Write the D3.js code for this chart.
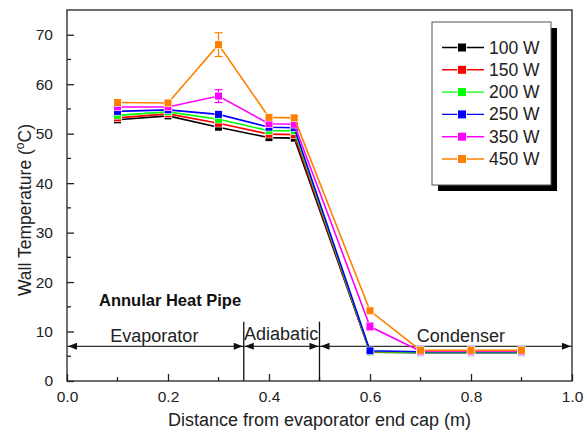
<!DOCTYPE html>
<html>
<head>
<meta charset="utf-8">
<script src="https://cdn.jsdelivr.net/npm/d3@7"></script>
<style>
  body { margin: 0; background: #fff; }
  svg { font-family: "Liberation Sans", Arial, sans-serif; }
</style>
</head>
<body>
<svg id="chart" width="587" height="432"></svg>
<script>
// distances along the pipe (m)
const positions = [0.1, 0.2, 0.3, 0.4, 0.45, 0.6, 0.7, 0.8, 0.9];
const powerLabels = ["100 W", "150 W", "200 W", "250 W", "350 W", "450 W"];
const colors = ["#000000", "#ff0000", "#00ff00", "#0000ff", "#ff00ff", "#ff8000"];

const temp100 = [52.8, 53.6, 51.3, 49.2, 49.1, 5.8, 5.7, 5.7, 5.7];
const temp150 = [53.2, 54.0, 52.1, 49.9, 49.8, 5.8, 5.8, 5.8, 5.8];
const temp200 = [53.7, 54.4, 52.9, 50.6, 50.6, 5.9, 5.8, 5.8, 5.8];
const temp250 = [54.5, 54.8, 53.9, 51.3, 51.2, 6.1, 5.9, 5.9, 5.9];
const temp350 = [55.4, 55.4, 57.6, 52.0, 51.9, 11.0, 6.0, 6.0, 6.0];
const temp450 = [56.3, 56.2, 68.0, 53.3, 53.2, 14.2, 6.2, 6.2, 6.2];
const temps = [temp100, temp150, temp200, temp250, temp350, temp450];

const err350 = [0, 0, 1.3, 0, 0, 0.8, 0, 0, 0];
const err450 = [0, 0, 2.4, 0, 0.4, 0, 0, 0, 0];
const errs = [null, null, null, null, err350, err450];

// section boundaries and labels
const sectionEdges = [0, 0.35, 0.5, 1.0];
const sectionNames = ["Evaporator", "Adiabatic", "Condenser"];
const sectionLabelX = [0.173, 0.424, 0.78];

const xTicks = [0, 0.2, 0.4, 0.6, 0.8, 1.0];
const xMinor = [0.1, 0.3, 0.5, 0.7, 0.9];
const yTicks = [0, 10, 20, 30, 40, 50, 60, 70];
const yMinor = [5, 15, 25, 35, 45, 55, 65];

const svg = d3.select("#chart");
const mLeft = 67, mRight = 572, mTop = 10, mBottom = 381;

const x = d3.scaleLinear().domain([0, 1]).range([mLeft, mRight]);
const y = d3.scaleLinear().domain([0, 75]).range([mBottom, mTop]);

const axisColor = "#222";

// frame
svg.append("rect")
  .attr("x", mLeft).attr("y", mTop)
  .attr("width", mRight - mLeft).attr("height", mBottom - mTop)
  .attr("fill", "none").attr("stroke", axisColor).attr("stroke-width", 1.3);

// x axis (ticks inward)
const xAxis = svg.append("g").attr("transform", `translate(0,${mBottom})`)
  .call(d3.axisBottom(x).tickValues(xTicks).tickSizeInner(-7).tickSizeOuter(0)
    .tickFormat(d3.format(".1f")).tickPadding(10));
xAxis.select(".domain").remove();
xAxis.selectAll("line").attr("stroke", axisColor).attr("stroke-width", 1.3);
xAxis.selectAll("text").attr("font-size", 15.5).attr("fill", "#222")
  .attr("font-family", "Liberation Sans, Arial, sans-serif");

svg.append("g").selectAll("line").data(xMinor).join("line")
  .attr("x1", d => x(d)).attr("x2", d => x(d))
  .attr("y1", mBottom).attr("y2", mBottom - 4)
  .attr("stroke", axisColor).attr("stroke-width", 1.3);

// y axis
const yAxis = svg.append("g").attr("transform", `translate(${mLeft},0)`)
  .call(d3.axisLeft(y).tickValues(yTicks).tickSizeInner(-7).tickSizeOuter(0).tickPadding(14));
yAxis.select(".domain").remove();
yAxis.selectAll("line").attr("stroke", axisColor).attr("stroke-width", 1.3);
yAxis.selectAll("text").attr("font-size", 15.5).attr("fill", "#222")
  .attr("font-family", "Liberation Sans, Arial, sans-serif");

svg.append("g").selectAll("line").data(yMinor).join("line")
  .attr("x1", mLeft).attr("x2", mLeft + 4)
  .attr("y1", d => y(d)).attr("y2", d => y(d))
  .attr("stroke", axisColor).attr("stroke-width", 1.3);

// axis titles
svg.append("text")
  .attr("x", (mLeft + mRight) / 2).attr("y", 426)
  .attr("text-anchor", "middle").attr("font-size", 18).attr("fill", "#222")
  .text("Distance from evaporator end cap (m)");

const yTitle = svg.append("text")
  .attr("transform", "translate(31,210) rotate(-90)")
  .attr("text-anchor", "middle").attr("font-size", 17.5).attr("fill", "#222");
yTitle.append("tspan").text("Wall Temperature (");
yTitle.append("tspan").attr("font-size", 12).attr("dy", -7).text("o");
yTitle.append("tspan").attr("dy", 7).text("C)");

// section annotations
const arrowY = y(7);
const annot = svg.append("g");
annot.append("line")
  .attr("x1", x(0)).attr("x2", x(1))
  .attr("y1", arrowY).attr("y2", arrowY)
  .attr("stroke", "#333").attr("stroke-width", 1.2);

function arrowHead(px, dir) {
  const len = 9, half = 3.5;
  annot.append("path")
    .attr("d", `M${px},${arrowY} L${px - dir * len},${arrowY - half} L${px - dir * len},${arrowY + half} Z`)
    .attr("fill", "#111");
}
for (let i = 0; i < sectionEdges.length - 1; i++) {
  arrowHead(x(sectionEdges[i]) + 1, -1);
  arrowHead(x(sectionEdges[i + 1]) - 1, 1);
}
[0.35, 0.5].forEach(v => {
  annot.append("line")
    .attr("x1", x(v)).attr("x2", x(v))
    .attr("y1", y(0)).attr("y2", y(12))
    .attr("stroke", "#111").attr("stroke-width", 1.3);
});
annot.selectAll("text.sec").data(sectionNames).join("text")
  .attr("class", "sec")
  .attr("x", (d, i) => x(sectionLabelX[i]))
  .attr("y", (d, i) => i === 1 ? 340 : 342)
  .attr("text-anchor", "middle").attr("font-size", 18).attr("fill", "#222")
  .text(d => d);

svg.append("text")
  .attr("x", 99).attr("y", 306)
  .attr("font-size", 16.5).attr("font-weight", "bold").attr("fill", "#111")
  .text("Annular Heat Pipe");

// series
const line = d3.line().x(d => x(d[0])).y(d => y(d[1]));
const ms = 7;

temps.forEach((series, i) => {
  const pts = positions.map((p, j) => [p, series[j]]);
  const g = svg.append("g");
  g.append("path").attr("d", line(pts))
    .attr("fill", "none").attr("stroke", colors[i]).attr("stroke-width", 1.6);
  if (errs[i]) {
    const e = errs[i];
    pts.forEach((p, j) => {
      if (!e[j]) return;
      const cx = x(p[0]);
      const y1 = y(p[1] + e[j]), y2 = y(p[1] - e[j]);
      g.append("line").attr("x1", cx).attr("x2", cx).attr("y1", y1).attr("y2", y2)
        .attr("stroke", colors[i]).attr("stroke-width", 1.2);
      [y1, y2].forEach(yy => g.append("line")
        .attr("x1", cx - 4).attr("x2", cx + 4).attr("y1", yy).attr("y2", yy)
        .attr("stroke", colors[i]).attr("stroke-width", 1.2));
    });
  }
  g.selectAll("rect").data(pts).join("rect")
    .attr("x", d => x(d[0]) - ms / 2).attr("y", d => y(d[1]) - ms / 2)
    .attr("width", ms).attr("height", ms)
    .attr("fill", colors[i]).attr("stroke", "#fff").attr("stroke-width", 1.2)
    .attr("paint-order", "stroke");
});

// legend
const lg = svg.append("g");
const lx = 432, ly = 22, lw = 119, lh = 163;
lg.append("rect").attr("x", lx + 6).attr("y", ly + 6).attr("width", lw).attr("height", lh).attr("fill", "#000");
lg.append("rect").attr("x", lx).attr("y", ly).attr("width", lw).attr("height", lh)
  .attr("fill", "#fff").attr("stroke", "#555").attr("stroke-width", 1);

powerLabels.forEach((lab, i) => {
  const cy = 47.5 + i * 22.3;
  lg.append("line").attr("x1", 442).attr("x2", 484).attr("y1", cy).attr("y2", cy)
    .attr("stroke", colors[i]).attr("stroke-width", 1.4);
  lg.append("rect").attr("x", 462 - 4).attr("y", cy - 4).attr("width", 8).attr("height", 8)
    .attr("fill", colors[i]).attr("stroke", "#fff").attr("stroke-width", 1.5).attr("paint-order", "stroke");
  lg.append("text").attr("x", 489).attr("y", cy + 6)
    .attr("font-size", 17.5).attr("fill", "#222").text(lab);
});
</script>
</body>
</html>
